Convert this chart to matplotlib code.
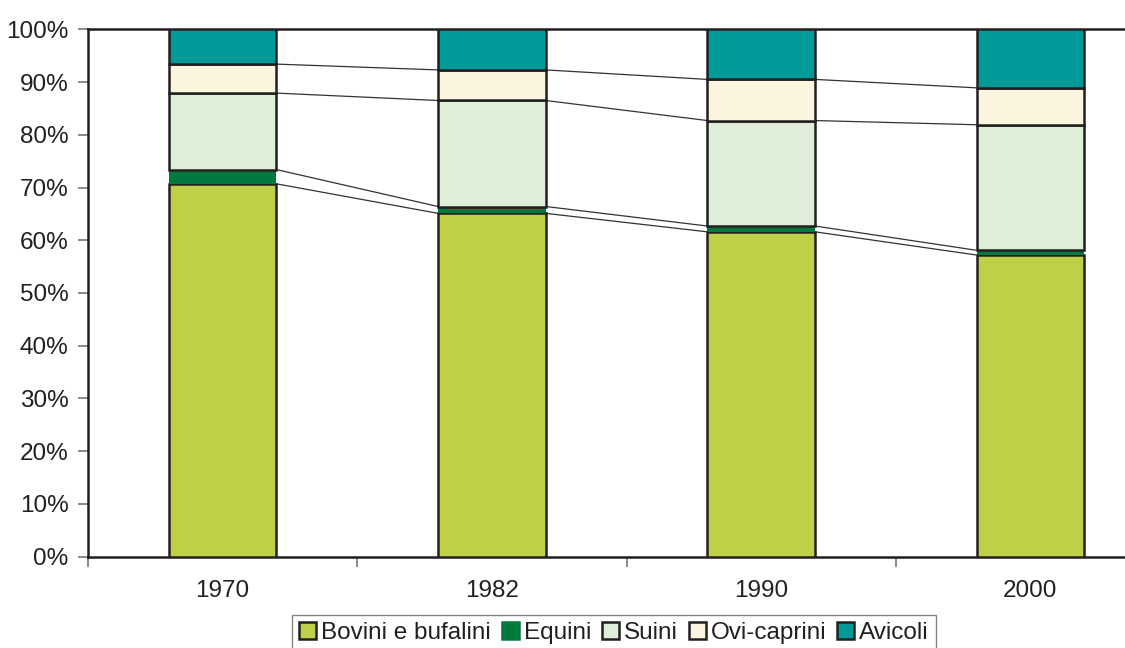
import matplotlib

matplotlib.use("Agg")

import matplotlib.pyplot as plt
import numpy as np
from matplotlib.patches import Patch
from matplotlib.ticker import FuncFormatter, FixedLocator

YEARS = ["1970", "1982", "1990", "2000"]
SERIES = ["Bovini e bufalini", "Equini", "Suini", "Ovi-caprini", "Avicoli"]
BOVINI = [70.7, 65.1, 61.6, 57.2]
EQUINI = [2.7, 1.3, 1.1, 0.9]
SUINI = [14.5, 20.1, 20.0, 23.8]
OVICAPRINI = [5.5, 5.8, 7.8, 7.0]
AVICOLI = [6.6, 7.7, 9.5, 11.1]

COLORS = ["#bfd047", "#00793f", "#dfeed9", "#fbf5df", "#009b98"]
EDGE = "#231f20"
TEXT = "#231f20"

plt.rcParams.update({
    "font.family": ["Liberation Sans", "DejaVu Sans"],
    "font.size": 17.5,
    "text.color": TEXT,
})

fig = plt.figure(figsize=(11.25, 6.48), dpi=100)
ax = fig.add_axes([88 / 1125, 91.3 / 648, 1077 / 1125, 527.4 / 648])

values = [BOVINI, EQUINI, SUINI, OVICAPRINI, AVICOLI]
x = np.arange(len(YEARS))
width = 0.4
bottom = np.zeros(len(YEARS))
tops = []
for name, vals, color in zip(SERIES, values, COLORS):
    vals = np.array(vals)
    edge = "none" if name == "Equini" else EDGE
    ax.bar(x, vals, width, bottom=bottom, color=color, edgecolor=edge,
           linewidth=1.8, zorder=3)
    bottom = bottom + vals
    tops.append(bottom.copy())

# series lines between bars (not for the 100% top)
for level in tops[:-1]:
    for i in range(len(YEARS) - 1):
        ax.plot([x[i] + width / 2, x[i + 1] - width / 2], [level[i], level[i + 1]],
                color="#333333", lw=0.9, zorder=2, solid_capstyle="butt")

ax.set_xlim(-0.5, len(YEARS) - 0.5)
ax.set_ylim(0, 100)
ax.set_yticks(np.arange(0, 101, 10))
ax.yaxis.set_major_formatter(FuncFormatter(lambda v, p: "%d%%" % v))
ax.set_xticks(x)
ax.set_xticklabels(YEARS)
ax.tick_params(axis="x", which="major", length=0, pad=17, labelsize=17.5, labelcolor=TEXT)
ax.xaxis.set_minor_locator(FixedLocator(np.arange(-0.5, len(YEARS), 1.0)))
ax.tick_params(axis="x", which="minor", length=7, width=1.2, color="#777777", direction="out")
ax.tick_params(axis="y", length=7, width=1.2, color="#777777", direction="out",
               pad=7, labelsize=17.5, labelcolor=TEXT)

for s in ["top", "left", "bottom", "right"]:
    ax.spines[s].set_color(EDGE)
    ax.spines[s].set_linewidth(1.8)
ax.spines["right"].set_visible(False)

handles = []
for name, color in zip(SERIES, COLORS):
    edge = color if name == "Equini" else EDGE
    handles.append(Patch(facecolor=color, edgecolor=edge, linewidth=1.8, label=name))
leg = fig.legend(handles=handles, loc="upper center", bbox_to_anchor=(614 / 1125, 1 - 615 / 648),
                 ncol=5, frameon=True, fancybox=False, fontsize=17.5,
                 handlelength=0.7, handleheight=0.7, handletextpad=0.2,
                 columnspacing=0.45, borderpad=0.3, borderaxespad=0)
leg.get_frame().set_edgecolor("#666666")
leg.get_frame().set_linewidth(1.0)

fig.savefig("out.png", dpi=100)
